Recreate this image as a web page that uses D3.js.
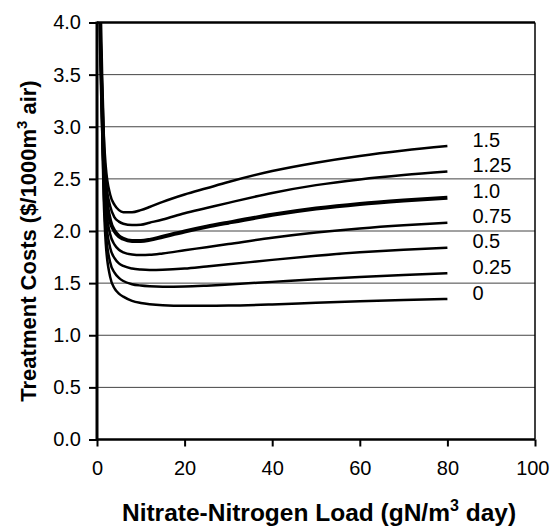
<!DOCTYPE html>
<html>
<head>
<meta charset="utf-8">
<script src="https://cdn.jsdelivr.net/npm/d3@7"></script>
<style>
  html, body { margin: 0; padding: 0; background: #fff; }
  svg { display: block; }
  text { font-family: "Liberation Sans", Arial, sans-serif; fill: #000; }
</style>
</head>
<body>
<svg id="chart" width="550" height="529"></svg>
<script>
// ---- data ----
const loads = [0.75, 1, 1.5, 2, 3, 4, 5, 6, 8, 10, 12, 15, 20, 25, 30, 40, 50, 60, 70, 80];
const seriesNames = ["1.5", "1.25", "1.0", "0.75", "0.5", "0.25", "0"];
const cost150 = [4.0, 3.6, 2.95, 2.62, 2.35, 2.25, 2.2, 2.18, 2.18, 2.2, 2.23, 2.28, 2.35, 2.41, 2.47, 2.575, 2.655, 2.72, 2.772, 2.815];
const cost125 = [4.0, 3.55, 2.85, 2.5, 2.24, 2.13, 2.09, 2.07, 2.057, 2.06, 2.08, 2.11, 2.17, 2.22, 2.27, 2.365, 2.44, 2.495, 2.537, 2.57];
const cost100 = [4.0, 3.5, 2.75, 2.38, 2.1, 2.0, 1.95, 1.925, 1.905, 1.905, 1.915, 1.945, 1.995, 2.04, 2.08, 2.155, 2.215, 2.26, 2.293, 2.32];
const cost075 = [4.0, 3.45, 2.65, 2.25, 1.97, 1.87, 1.82, 1.795, 1.775, 1.77, 1.772, 1.785, 1.815, 1.845, 1.875, 1.935, 1.985, 2.025, 2.056, 2.08];
const cost050 = [4.0, 3.4, 2.55, 2.13, 1.84, 1.74, 1.69, 1.665, 1.64, 1.63, 1.626, 1.628, 1.64, 1.66, 1.68, 1.723, 1.762, 1.795, 1.82, 1.84];
const cost025 = [4.0, 3.35, 2.45, 2.0, 1.7, 1.6, 1.55, 1.52, 1.49, 1.477, 1.47, 1.466, 1.468, 1.476, 1.487, 1.512, 1.537, 1.558, 1.577, 1.594];
const cost000 = [4.0, 3.3, 2.35, 1.88, 1.56, 1.45, 1.40, 1.37, 1.33, 1.31, 1.298, 1.288, 1.283, 1.283, 1.285, 1.296, 1.311, 1.325, 1.337, 1.348];
const xTicks = [0, 20, 40, 60, 80, 100];
const yTicks = [0.0, 0.5, 1.0, 1.5, 2.0, 2.5, 3.0, 3.5, 4.0];

const seriesValues = [cost150, cost125, cost100, cost075, cost050, cost025, cost000];

// ---- layout ----
const svg = d3.select("#chart");
const x = d3.scaleLinear().domain([0, 100]).range([97, 535]);
const y = d3.scaleLinear().domain([0, 4]).range([439.5, 22.5]);

// gridlines
svg.append("g")
  .selectAll("line")
  .data(yTicks.filter(v => v > 0 && v < 4))
  .join("line")
  .attr("x1", x(0)).attr("x2", x(100))
  .attr("y1", d => y(d)).attr("y2", d => y(d))
  .attr("stroke", "#444").attr("stroke-width", 1);

// top border (4.0) and right border
svg.append("line")
  .attr("x1", x(0)).attr("x2", x(100))
  .attr("y1", y(4)).attr("y2", y(4))
  .attr("stroke", "#000").attr("stroke-width", 2.5);
svg.append("line")
  .attr("x1", x(100)).attr("x2", x(100))
  .attr("y1", y(4)).attr("y2", y(0))
  .attr("stroke", "#000").attr("stroke-width", 1.5);

// curves
svg.append("clipPath").attr("id", "plotclip")
  .append("rect").attr("x", x(0)).attr("y", y(4)).attr("width", x(100) - x(0)).attr("height", y(0) - y(4));

const line = d3.line()
  .x((d, i) => x(loads[i]))
  .y(d => y(d))
  .curve(d3.curveMonotoneX);

svg.append("g").attr("clip-path", "url(#plotclip)")
  .selectAll("path")
  .data(seriesValues)
  .join("path")
  .attr("d", d => line(d))
  .attr("fill", "none")
  .attr("stroke", "#000")
  .attr("stroke-width", (d, i) => seriesNames[i] === "1.0" ? 4 : 2.5)
  .attr("stroke-linejoin", "round");

// series labels
svg.append("g")
  .selectAll("text")
  .data(seriesValues)
  .join("text")
  .attr("x", x(80) + 25)
  .attr("y", d => y(d[d.length - 1] + 0.06))
  .attr("dy", "0.35em")
  .attr("font-size", 20)
  .text((d, i) => seriesNames[i]);

// axes
const xAxis = d3.axisBottom(x).tickValues(xTicks).tickFormat(d3.format("d")).tickSize(7).tickPadding(14);
const yAxis = d3.axisLeft(y).tickValues(yTicks).tickFormat(d3.format(".1f")).tickSize(8).tickPadding(8);

const gx = svg.append("g").attr("transform", `translate(0,${y(0)})`).call(xAxis);
gx.select(".domain").remove();
gx.selectAll(".tick line").attr("stroke", "#000").attr("stroke-width", 2);
gx.selectAll(".tick text").attr("font-size", 20).attr("font-family", "Liberation Sans, Arial, sans-serif").attr("fill", "#000");
// keep the last label inside the picture
gx.selectAll(".tick text").filter(d => d === 100).attr("text-anchor", "end").attr("dx", 14);

const gy = svg.append("g").attr("transform", `translate(${x(0)},0)`).call(yAxis);
gy.select(".domain").remove();
gy.selectAll(".tick line").attr("stroke", "#000").attr("stroke-width", 2);
gy.selectAll(".tick text").attr("font-size", 20).attr("font-family", "Liberation Sans, Arial, sans-serif").attr("fill", "#000");

// axis lines
svg.append("line")
  .attr("x1", x(0)).attr("x2", x(100))
  .attr("y1", y(0)).attr("y2", y(0))
  .attr("stroke", "#000").attr("stroke-width", 2.5);
svg.append("line")
  .attr("x1", x(0)).attr("x2", x(0))
  .attr("y1", y(4) - 1).attr("y2", y(0) + 1)
  .attr("stroke", "#000").attr("stroke-width", 3);

// axis titles
const xt = svg.append("text")
  .attr("x", 319).attr("y", 521)
  .attr("text-anchor", "middle")
  .attr("font-size", 24.5).attr("font-weight", "bold");
xt.append("tspan").text("Nitrate-Nitrogen Load (gN/m");
xt.append("tspan").attr("font-size", 16).attr("dy", -10).text("3");
xt.append("tspan").attr("dy", 10).text(" day)");

const yt = svg.append("text")
  .attr("transform", "translate(36,241) rotate(-90)")
  .attr("text-anchor", "middle")
  .attr("font-size", 22).attr("font-weight", "bold");
yt.append("tspan").text("Treatment Costs ($/1000m");
yt.append("tspan").attr("font-size", 15).attr("dy", -9).text("3");
yt.append("tspan").attr("dy", 9).text(" air)");
</script>
</body>
</html>
